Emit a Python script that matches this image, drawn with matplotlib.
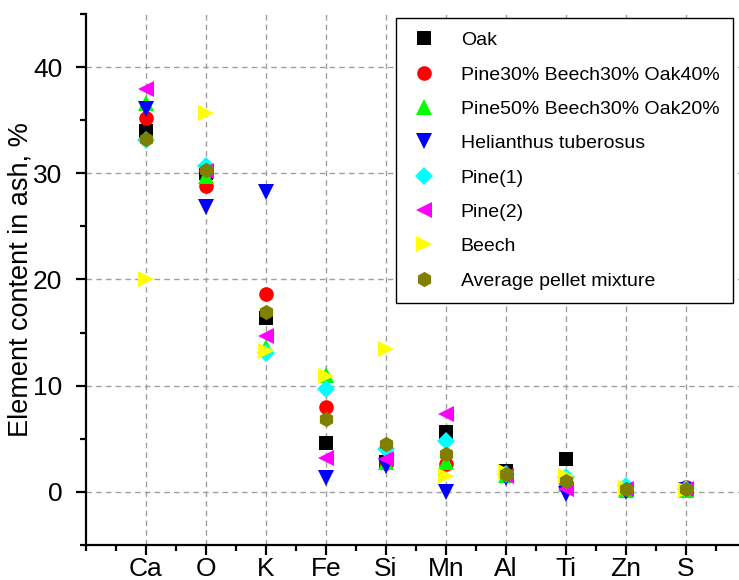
import matplotlib
matplotlib.use('Agg')
import matplotlib.pyplot as plt
from matplotlib.ticker import MultipleLocator

# element order along the x axis
elements = ['Ca', 'O', 'K', 'Fe', 'Si', 'Mn', 'Al', 'Ti', 'Zn', 'S']

# element content in ash, %
oak        = [34.0, 30.0, 16.4, 4.6, 2.8, 5.6, 2.0, 3.1, 0.3, 0.3]
pine30     = [35.2, 28.8, 18.6, 7.95, 2.7, 2.6, 1.6, 0.7, 0.3, 0.45]
pine50     = [36.6, 29.7, 13.6, 11.0, 2.8, 2.85, 1.6, 0.7, 0.2, 0.2]
helianthus = [36.1, 26.8, 28.2, 1.3, 2.45, 0.0, 1.3, -0.2, 0.0, 0.2]
pine1      = [33.1, 30.7, 13.1, 9.7, 4.0, 4.8, 1.7, 1.4, 0.6, 0.3]
pine2      = [37.9, 30.2, 14.7, 3.2, 3.1, 7.3, 1.5, 0.25, 0.3, 0.3]
beech      = [20.0, 35.7, 13.3, 10.9, 13.5, 1.5, 1.9, 1.5, 0.4, 0.2]
average    = [33.2, 30.3, 16.9, 6.9, 4.5, 3.55, 1.65, 1.05, 0.25, 0.25]

series = [
    ('Oak', oak, 's', 'black', 10),
    ('Pine30% Beech30% Oak40%', pine30, 'o', 'red', 10.5),
    ('Pine50% Beech30% Oak20%', pine50, '^', '#00ff00', 12),
    ('Helianthus tuberosus', helianthus, 'v', 'blue', 12),
    ('Pine(1)', pine1, 'D', 'cyan', 9),
    ('Pine(2)', pine2, '<', 'magenta', 12),
    ('Beech', beech, '>', 'yellow', 12),
    ('Average pellet mixture', average, 'h', '#808000', 11),
]

plt.rcParams['font.family'] = 'Liberation Sans'

fig = plt.figure(figsize=(7.39, 5.80), dpi=100)
ax = fig.add_axes([86 / 739, 35 / 580, 660 / 739, 531 / 580])

xs = list(range(1, len(elements) + 1))
for label, vals, m, c, ms in series:
    ax.plot(xs, vals, linestyle='none', marker=m, color=c, markersize=ms,
            markeredgewidth=0, label=label)

ax.set_xlim(0, 11)
ax.set_ylim(-5, 45)
ax.set_xticks(xs)
ax.set_xticklabels(elements)
ax.xaxis.set_minor_locator(MultipleLocator(0.5))
ax.set_yticks([0, 10, 20, 30, 40])
ax.yaxis.set_minor_locator(MultipleLocator(5))

ax.grid(True, which='major', linestyle=(0, (4, 3)), color='#a0a0a0', linewidth=1)
ax.set_axisbelow(True)

ax.spines['top'].set_visible(False)
ax.spines['right'].set_visible(False)
ax.spines['left'].set_linewidth(1.6)
ax.spines['bottom'].set_linewidth(1.6)

ax.tick_params(which='major', direction='out', length=7, width=1.6, labelsize=19)
ax.tick_params(which='minor', direction='out', length=4, width=1.6)
ax.tick_params(axis='x', pad=2)
ax.tick_params(axis='y', pad=10)

ax.set_ylabel('Element content in ash, %', fontsize=19.5, labelpad=0)

leg = ax.legend(loc='upper right', bbox_to_anchor=(733 / 739, 1 - 18 / 580),
                bbox_transform=fig.transFigure, borderaxespad=0, fontsize=14,
                frameon=True, fancybox=False, edgecolor='black', framealpha=1,
                labelspacing=0.86, handletextpad=1.2, borderpad=0.7,
                handlelength=1.4)
leg.get_frame().set_linewidth(1.0)

fig.savefig('out.png', dpi=100)
